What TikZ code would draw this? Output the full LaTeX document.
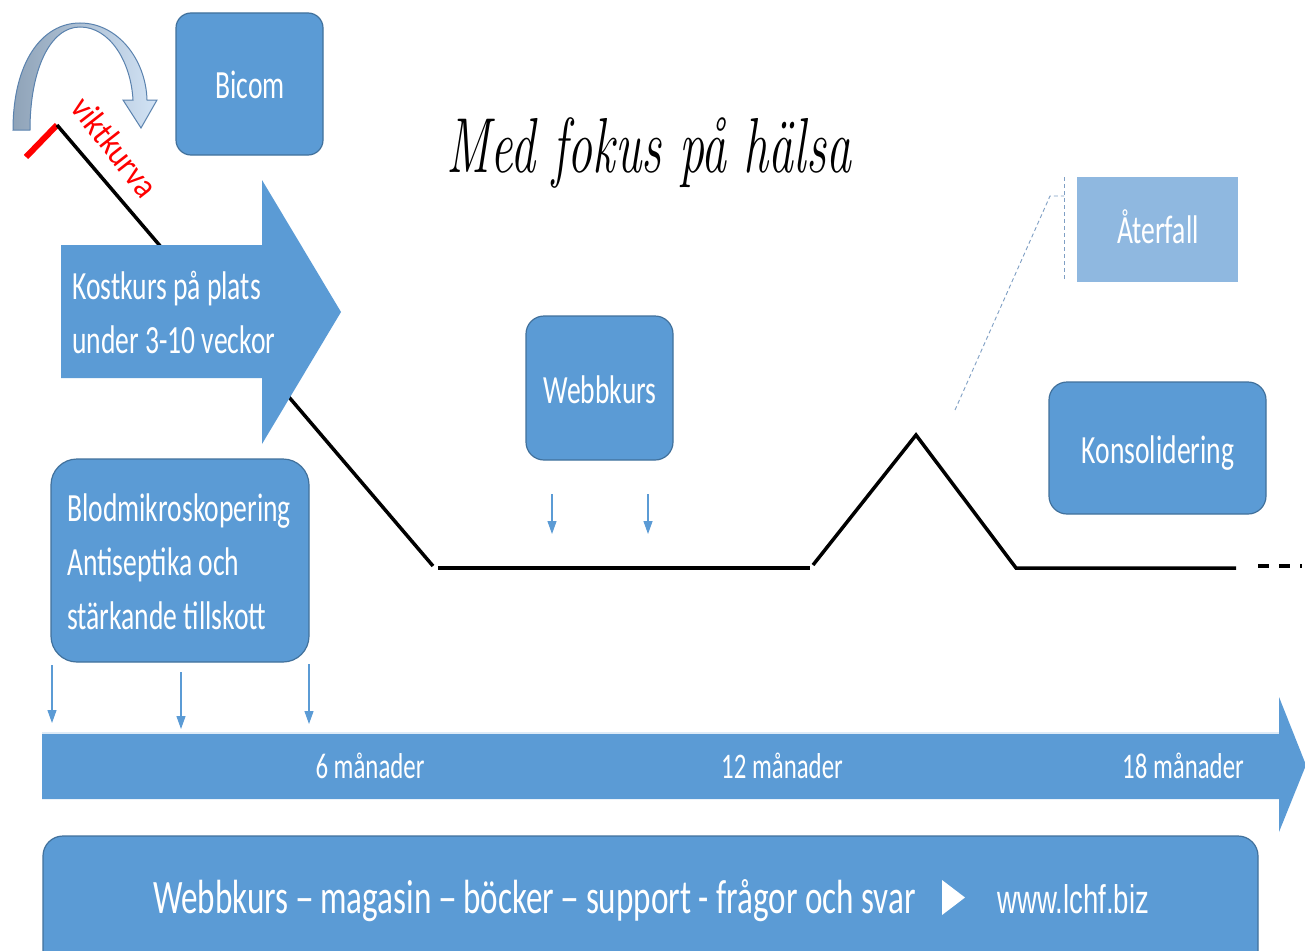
\documentclass[tikz,border=0pt]{standalone}
\usepackage{fontspec}
\newfontfamily\calfont{Carlito}[FakeStretch=0.69]
\newfontfamily\calvfont{Carlito}[FakeStretch=0.9]
\newfontfamily\arsfont{Liberation Sans}[FakeStretch=0.69]
\usetikzlibrary{arrows.meta}
\definecolor{boxblue}{HTML}{5B9BD5}
\definecolor{boxedge}{HTML}{41719C}
\definecolor{lightbox}{HTML}{8FB8E0}
\definecolor{calloutc}{HTML}{7F9FC4}
\definecolor{arcgray}{HTML}{8FA3B8}
\definecolor{arclight}{HTML}{D2E3F5}
\definecolor{arcedge}{HTML}{5A82AE}
\newcommand{\longdash}{\scalebox{0.56}[1]{—}}
\tikzset{
  rbox/.style={draw=boxedge, line width=1.2pt, fill=boxblue, rounded corners=18pt},
  wtext/.style={text=white, font=\calfont\fontsize{40}{48}\selectfont, inner sep=0pt},
  tltext/.style={text=white, font=\calfont\fontsize{36}{44}\selectfont, inner sep=0pt},
  chart/.style={line width=3.5pt, black},
  tick/.style={draw=boxblue, line width=1.2pt, -{Triangle[width=9pt,length=13pt]}},
}
\begin{document}
\begin{tikzpicture}[x=1pt,y=-1pt]
\clip (0,0) rectangle (1305,950);
\fill[white] (0,0) rectangle (1305,950);

% curved arrow
\draw[arcedge, line width=1pt, left color=arcgray, right color=arclight]
  (13,130) .. controls (13,62) and (42,23) .. (80,23)
  .. controls (118,23) and (146,60) .. (147,100)
  -- (157,100) -- (141,128) -- (123,100) -- (133,100)
  .. controls (131,62) and (110,27) .. (80,27)
  .. controls (50,27) and (30,70) .. (30,130) -- cycle;

% red line and weight curve
\coordinate (r1) at (26,157);
\coordinate (r2) at (57,125);
\coordinate (c1) at (433,566);
\draw[red, line width=6pt] (r1) -- (r2);
\draw[chart] (r2) -- (c1);
\node[text=red, font=\calvfont\fontsize{35}{40}\selectfont, rotate=-52, inner sep=0pt] (vikt) at (115,147) {viktkurva};

% Kostkurs arrow
\fill[boxblue] (61,245) -- (262,245) -- (262,180) -- (341,312) -- (262,444) -- (262,378) -- (61,378) -- cycle;
\node[wtext, anchor=base west] (kost1) at (72,299) {Kostkurs på plats};
\node[wtext, anchor=base west] (kost2) at (72,353) {under 3-10 veckor};

% Bicom
\node[rbox, minimum width=147pt, minimum height=142pt, rounded corners=15pt] (bicomb) at (249.5,84) {};
\node[wtext, anchor=base] (bicom) at (250,98) {Bicom};

% title
\node[anchor=base, inner sep=0pt] (title) at (649,172) {\scalebox{0.64}[1]{\fontsize{78}{80}\selectfont\itshape Med fokus på hälsa}};

% chart lines
\coordinate (c2) at (438,568);
\coordinate (c3) at (810,568);
\coordinate (c4) at (813,565);
\coordinate (c5) at (916,435);
\coordinate (c6) at (1016,568);
\coordinate (c7) at (1236,568);
\coordinate (c8) at (1258,566);
\coordinate (c9) at (1302,566);
\draw[chart] (c2) -- (c3);
\draw[chart] (c4) -- (c5) -- (c6) -- (c7);
\draw[chart, dash pattern=on 11pt off 10pt] (c8) -- (c9);

% Webbkurs
\node[rbox, minimum width=147pt, minimum height=144pt] (webbb) at (599.5,388) {};
\node[wtext, anchor=base] (webb) at (600,403) {Webbkurs};
\coordinate (w1a) at (552,494); \coordinate (w1b) at (552,534);
\coordinate (w2a) at (648,494); \coordinate (w2b) at (648,534);
\draw[tick] (w1a) -- (w1b);
\draw[tick] (w2a) -- (w2b);

% Återfall with callout
\fill[lightbox] (1077,177) rectangle (1238,282);
\node[wtext, anchor=base] (aterfall) at (1158,243) {Återfall};
\coordinate (ca) at (955,410);
\coordinate (cb) at (1050,196);
\coordinate (cc) at (1064,196);
\coordinate (cd) at (1064,177);
\coordinate (ce) at (1064,280);
\draw[calloutc, line width=0.9pt, dash pattern=on 4pt off 3pt] (ca) -- (cb) -- (cc);
\draw[calloutc, line width=0.9pt, dash pattern=on 4pt off 3pt] (cd) -- (ce);

% Konsolidering
\node[rbox, minimum width=217pt, minimum height=132pt] (konsb) at (1157.5,448) {};
\node[wtext, anchor=base] (kons) at (1158,463) {Konsolidering};

% Blodmikroskopering
\node[rbox, minimum width=258pt, minimum height=203pt, rounded corners=26pt] (blodb) at (180,560.5) {};
\node[wtext, anchor=base west] (blod1) at (67,521) {Blodmikroskopering};
\node[wtext, anchor=base west] (blod2) at (67,575) {Antiseptika och};
\node[wtext, anchor=base west] (blod3) at (67,629) {stärkande tillskott};
\coordinate (b1a) at (52,665); \coordinate (b1b) at (52,723);
\coordinate (b2a) at (181,672); \coordinate (b2b) at (181,729);
\coordinate (b3a) at (309,664); \coordinate (b3b) at (309,724);
\draw[tick] (b1a) -- (b1b);
\draw[tick] (b2a) -- (b2b);
\draw[tick] (b3a) -- (b3b);

% timeline arrow
\fill[boxblue] (42,733) -- (1279,733) -- (1279,697) -- (1306,765) -- (1279,832) -- (1279,799) -- (42,799) -- cycle;
\draw[white!80!boxblue, line width=1.5pt] (42,733) -- (1279,733);
\node[tltext, anchor=base] (m6) at (370,778) {6 månader};
\node[tltext, anchor=base] (m12) at (782,778) {12 månader};
\node[tltext, anchor=base] (m18) at (1183,778) {18 månader};

% bottom bar
\draw[boxedge, line width=1.2pt, fill=boxblue, rounded corners=20pt] (43,836) rectangle (1258,990);
\node[text=white, font=\calfont\fontsize{48}{56}\selectfont, inner sep=0pt, anchor=base west] (bottomtxt) at (153,913) {Webbkurs \longdash{} magasin \longdash{} böcker \longdash{} support - frågor och svar};
\fill[white] (942,880) -- (965,897.5) -- (942,915) -- cycle;
\node[text=white, font=\arsfont\fontsize{40}{48}\selectfont, inner sep=0pt, anchor=base west] (url) at (997,913) {www.lchf.biz};
\end{tikzpicture}
\end{document}
